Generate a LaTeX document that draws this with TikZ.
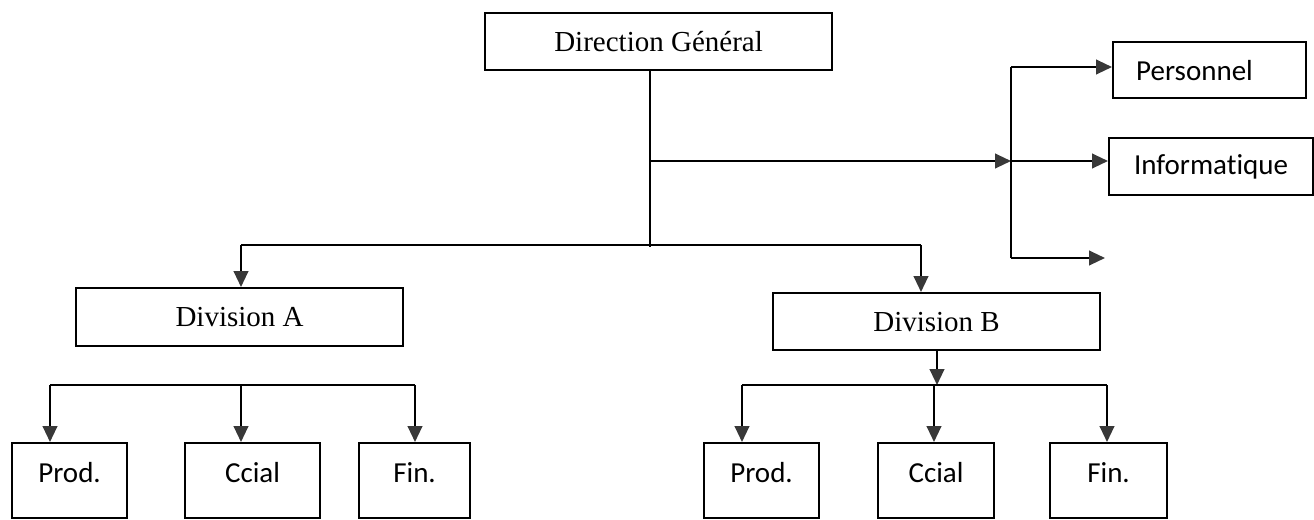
\documentclass[tikz,border=0pt]{standalone}
\usepackage{fontspec}
\setmainfont{Liberation Serif}
\newfontfamily\orgsans[Ligatures=NoCommon]{Carlito}
\usetikzlibrary{arrows.meta}

\tikzset{
  unitbox/.style={draw=black, line width=1.6pt, inner sep=0pt, anchor=north west,
    font=\fontsize{21.75}{26}\selectfont},
  serifbox/.style={unitbox},
  sansbox/.style={unitbox, font=\orgsans\fontsize{21.75}{26}\selectfont},
  leafbox/.style={sansbox, text height=29.25pt, text depth=27pt},
  link/.style={line width=1.6pt, black},
  arr/.style={link, -{Triangle[length=12pt,width=11pt,fill=black!78,color=black!78]}},
}

\begin{document}
\begin{tikzpicture}[x=0.75pt, y=-0.75pt]
\useasboundingbox (0,0) rectangle (1314,519);

% top management and staff services
\node[serifbox, minimum width=260.25pt, minimum height=42.75pt] (dg) at (484,12) {Direction Général};
\node[sansbox, minimum width=144.75pt, minimum height=42pt, text width=110pt, align=left, inner xsep=17.25pt] (pers) at (1112,41) {Personnel};
\node[sansbox, minimum width=153pt, minimum height=42.75pt] (info) at (1108,137) {Informatique};

% divisions
\node[serifbox, minimum width=245.25pt, minimum height=43.5pt] (diva) at (75,287) {Division A};
\node[serifbox, minimum width=245.25pt, minimum height=42.75pt] (divb) at (772,292) {Division B};

% departments of division A
\node[leafbox, minimum width=86.25pt] (aprod) at (11,442) {Prod.};
\node[leafbox, minimum width=101.25pt] (accial) at (184,442) {Ccial};
\node[leafbox, minimum width=83.25pt] (afin) at (358,442) {Fin.};

% departments of division B
\node[leafbox, minimum width=86.25pt] (bprod) at (703,442) {Prod.};
\node[leafbox, minimum width=87pt] (bccial) at (877,442) {Ccial};
\node[leafbox, minimum width=87.75pt] (bfin) at (1049,442) {Fin.};

% junction points
\coordinate (trunk) at (650,247);
\coordinate (tj) at (650,161);
\coordinate (bus) at (1011,161);
\coordinate (bustop) at (1011,67);
\coordinate (busbot) at (1011,258);
\coordinate (busfree) at (1105,258);
\coordinate (splitl) at (241,245);
\coordinate (splitr) at (921,245);
\coordinate (arowl) at (50,385);
\coordinate (arowm) at (241,385);
\coordinate (arowr) at (415,385);
\coordinate (brow) at (937,385);
\coordinate (browl) at (742,385);
\coordinate (browm) at (934,385);
\coordinate (browr) at (1107,385);

% main trunk and staff branch
\draw[link] (dg.south -| trunk) -- (trunk);
\draw[arr] (tj) -- (bus);
\draw[link] (bustop) -- (busbot);
\draw[arr] (bustop) -- (bustop -| pers.west);
\draw[arr] (bus) -- (bus -| info.west);
\draw[arr] (busbot) -- (busfree);

% split to divisions
\draw[link] (splitl) -- (splitr);
\draw[arr] (splitl) -- (splitl |- diva.north);
\draw[arr] (splitr) -- (splitr |- divb.north);

% division A departments
\draw[link] (arowl) -- (arowr);
\draw[arr] (arowl) -- (arowl |- aprod.north);
\draw[arr] (arowm) -- (arowm |- accial.north);
\draw[arr] (arowr) -- (arowr |- afin.north);

% division B departments
\draw[arr] (divb.south -| brow) -- (brow);
\draw[link] (browl) -- (browr);
\draw[arr] (browl) -- (browl |- bprod.north);
\draw[arr] (browm) -- (browm |- bccial.north);
\draw[arr] (browr) -- (browr |- bfin.north);
\end{tikzpicture}
\end{document}
